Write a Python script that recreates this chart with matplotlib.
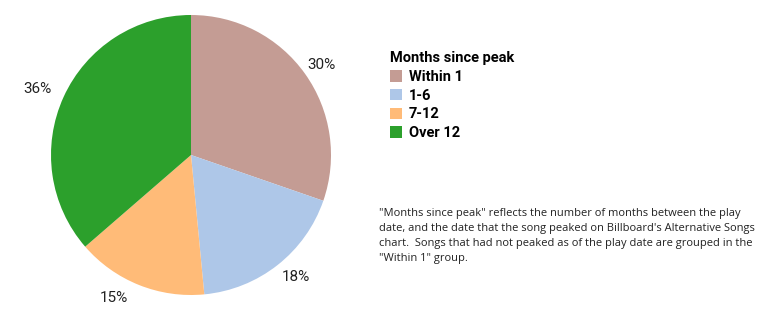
import matplotlib
matplotlib.use('Agg')
import matplotlib.pyplot as plt

plt.rcParams['font.family'] = ['Roboto', 'DejaVu Sans']

groups = ['Within 1', '1-6', '7-12', 'Over 12']
shares = [30, 18, 15, 36]
colors = ['#c49c94', '#aec7e8', '#ffbb78', '#2ca02c']
note = ('"Months since peak" reflects the number of months between the play\n'
        'date, and the date that the song peaked on Billboard\'s Alternative Songs\n'
        'chart.  Songs that had not peaked as of the play date are grouped in the\n'
        '"Within 1" group.')

# where the percentage labels sit, in pie radius units
label_pos = [(0.935, 0.645), (0.75, -0.87), (-0.55, -1.02), (-1.10, 0.47)]

fig = plt.figure(figsize=(7.75, 3.23), dpi=100)
ax = fig.add_axes([51 / 775, 28 / 323, 280 / 775, 280 / 323])

wedges, texts = ax.pie(shares, colors=colors, startangle=90, counterclock=False,
                       labels=['%d%%' % s for s in shares], labeldistance=1.16,
                       wedgeprops={'linewidth': 0})
for t, p in zip(texts, label_pos):
    t.set_position(p)
    t.set_fontsize(11)
    t.set_color('#222222')
    t.set_ha('center')
    t.set_va('center')
ax.set_xlim(-1, 1)
ax.set_ylim(-1, 1)

leg = fig.legend(wedges, groups, title='Months since peak', loc='upper left',
                 bbox_to_anchor=(390 / 775, 1 - 51 / 323), frameon=False,
                 prop={'size': 10.5, 'weight': 'bold'}, handlelength=0.85,
                 handleheight=0.85, handletextpad=0.45, labelspacing=0.33,
                 borderaxespad=0, borderpad=0)
leg.get_title().set_fontweight('bold')
leg.get_title().set_fontsize(10.5)
leg._legend_box.align = 'left'

fig.text(379 / 775, 1 - 208 / 323, note, fontsize=8, color='#222222',
         family=['Open Sans', 'DejaVu Sans'],
         va='top', ha='left', linespacing=1.52)

fig.savefig('out.png', dpi=100)
